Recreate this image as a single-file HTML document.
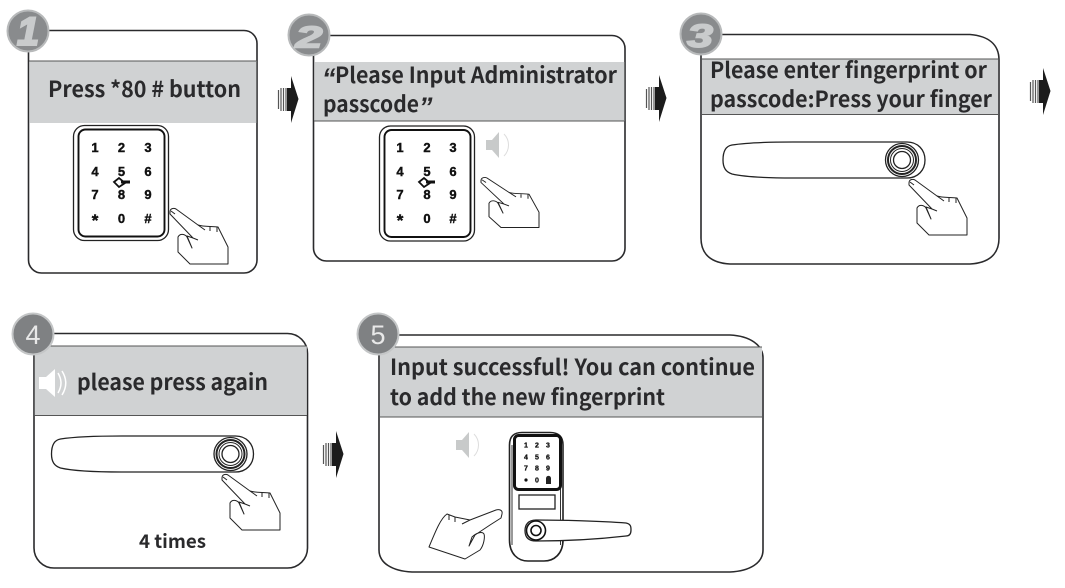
<!DOCTYPE html>
<html><head><meta charset="utf-8"><style>
html,body{margin:0;padding:0;background:#fff}
svg{display:block}
.t{font-family:"Noto Sans CJK SC","Liberation Sans",sans-serif;font-weight:700;fill:#2a2a2c;font-size:22px}
.q{font-family:"Liberation Sans",sans-serif;font-weight:700;font-style:italic;fill:#2a2a2c;font-size:27px}
.k{font-family:"Liberation Sans",sans-serif;font-weight:700;fill:#111;stroke:#111;stroke-width:.4;font-size:13px;text-anchor:middle}
.s{font-family:"Liberation Sans",sans-serif;font-weight:700;fill:#111;stroke:#111;stroke-width:.3;font-size:7px;text-anchor:middle}
.b{font-family:"Liberation Sans",sans-serif;font-weight:700;font-style:italic;fill:#c9cbcc;stroke:#c9cbcc;text-anchor:middle}
.r{font-family:"Liberation Sans",sans-serif;fill:#e8e8e8;font-size:27px;text-anchor:middle}
.p{fill:#fff;stroke:#2a2a2c;stroke-width:1.6}
.g{fill:#d0d2d3}
.l{stroke:#555;stroke-width:1;fill:none}
</style></head><body>
<svg width="1065" height="588" viewBox="0 0 1065 588" xmlns="http://www.w3.org/2000/svg">
<defs>
<g id="hand" fill="#fff" stroke="#222" stroke-width="1" stroke-linejoin="round">
<path d="M0 3C0 -1 4 -1 6 0L28 16C34 18 42 17 48 18L58 38V55H20L8 43V28C10 24 15 25 17 28L22 39L17 27L23 29L0 5Z"/>
<path d="M23 29L28 31M35 21L28 16M40 18V22M47 18V23" fill="none"/>
<path d="M1 2L5 5" fill="none"/>
</g>
<g id="arrow">
<path d="M13 0L20.500 23L13 47V35H9V12H13Z" fill="#1c1c1c"/>
<path d="M0.500 14V33M3 12V35M5.500 12V35M8 12V35" stroke="#555" stroke-width="1.200" fill="none"/>
</g>
<g id="handle" fill="none" stroke="#222">
<path d="M184 0H70C45 0 22 1 9 3C3 4 0 9 0 18C0 26 3 30 9 32C22 35 45 36 70 36H184C195 36 202 28 202 18C202 8 195 0 184 0Z" fill="#fff" stroke-width="1.300"/>
<circle cx="179" cy="18" r="16.500" stroke-width="1.300"/>
<circle cx="179" cy="18" r="14" stroke-width="2"/>
<circle cx="179" cy="18" r="8.500" stroke-width="1.300"/>
<circle cx="179" cy="18" r="11.500" stroke-width="1"/>
</g>
<g id="pad"><rect x="0" y="0" width="95" height="115" rx="11" fill="#fff" stroke="#222" stroke-width="1.300"/><rect x="5" y="4" width="86" height="107" rx="7" fill="#fff" stroke="#111" stroke-width="1.900"/></g>
<g id="spk"><path d="M0 8H6L13 0V26L6 18H0Z" fill="#c8caca"/><path d="M18 2C24 8 24 18 18 24" fill="none" stroke="#ddd" stroke-width="1"/></g>
<g id="key"><path d="M-7 0L-2 -4L4 1L-2 5Z" fill="#fff" stroke="#111" stroke-width="1.800"/><path d="M0 0H9" stroke="#111" stroke-width="3"/></g>
</defs>

<!-- Panel 1 -->
<rect class="p" x="28.500" y="30.500" width="228.500" height="242.500" rx="13"/>
<rect class="g" x="29.300" y="61" width="227" height="62"/>
<path class="l" d="M29 61H256"/>
<text class="t" x="48" y="97" textLength="193" lengthAdjust="spacingAndGlyphs">Press *80 # button</text>
<circle cx="28" cy="31" r="20.500" fill="#898b8d" stroke="#b8babb" stroke-width="2"/>
<text class="b" x="28" y="45" font-size="40" stroke-width="2">1</text>
<use href="#pad" x="73.500" y="125.500"/>
<text class="k" x="95" y="152">1</text><text class="k" x="121.500" y="152">2</text><text class="k" x="148" y="152">3</text>
<text class="k" x="95" y="176">4</text><text class="k" x="121.500" y="176">5</text><text class="k" x="148" y="176">6</text>
<text class="k" x="95" y="199">7</text><text class="k" x="121.500" y="199">8</text><text class="k" x="148" y="199">9</text>
<text class="k" x="95" y="226" style="font-size:17px">*</text><text class="k" x="121.500" y="223">0</text><text class="k" x="148" y="223">#</text>
<use href="#key" x="121" y="182"/>
<use href="#hand" x="170" y="209"/>
<use href="#arrow" x="278" y="76"/>

<!-- Panel 2 -->
<rect class="p" x="313.500" y="35.500" width="311.500" height="225.500" rx="13"/>
<rect class="g" x="314.300" y="62" width="310" height="59"/>
<path class="l" d="M314 121H624"/>
<text class="q" x="322" y="87">“</text>
<text class="t" x="335" y="83" textLength="282" lengthAdjust="spacingAndGlyphs">Please Input Administrator</text>
<text class="t" x="323" y="112" textLength="96" lengthAdjust="spacingAndGlyphs">passcode</text>
<text class="q" x="419" y="116">”</text>
<circle cx="309" cy="35" r="20.500" fill="#898b8d" stroke="#b8babb" stroke-width="2"/>
<text class="b" x="309" y="47.500" font-size="31" stroke-width="1.500" textLength="27" lengthAdjust="spacingAndGlyphs">2</text>
<use href="#pad" x="379.500" y="126"/>
<text class="k" x="400" y="152">1</text><text class="k" x="427" y="152">2</text><text class="k" x="453" y="152">3</text>
<text class="k" x="400" y="176">4</text><text class="k" x="427" y="176">5</text><text class="k" x="453" y="176">6</text>
<text class="k" x="400" y="199">7</text><text class="k" x="427" y="199">8</text><text class="k" x="453" y="199">9</text>
<text class="k" x="400" y="226" style="font-size:17px">*</text><text class="k" x="427" y="223">0</text><text class="k" x="453" y="223">#</text>
<use href="#key" x="426" y="182"/>
<use href="#spk" x="486" y="132"/>
<use href="#hand" transform="translate(481 178) scale(1 .9)"/>
<use href="#arrow" x="646" y="75"/>

<!-- Panel 3 -->
<path class="p" d="M701 34.500H970C988 36 999 44 999 60V238C999 255 988 263 970 264H730C712 263 701 255 701 238Z"/>
<rect class="g" x="702" y="59" width="296" height="55"/>
<path class="l" d="M702 59H998M702 114.500H998"/>
<text class="t" x="710" y="78" textLength="277" lengthAdjust="spacingAndGlyphs">Please enter fingerprint or</text>
<text class="t" x="710" y="107" textLength="282" lengthAdjust="spacingAndGlyphs">passcode:Press your finger</text>
<circle cx="701" cy="34" r="20.500" fill="#898b8d" stroke="#b8babb" stroke-width="2"/>
<text class="b" x="700" y="47" font-size="32" stroke-width="1.500" textLength="26" lengthAdjust="spacingAndGlyphs">3</text>
<use href="#handle" x="723" y="142"/>
<use href="#hand" x="909" y="180"/>
<use href="#arrow" x="1030" y="68"/>

<!-- Panel 4 -->
<rect class="p" x="34" y="333.500" width="273.500" height="234.500" rx="20"/>
<rect class="g" x="34.800" y="346" width="272" height="69"/>
<path class="l" d="M35 346H307M35 415.500H307" stroke="#444"/>
<path d="M39 377H46L55 369V397L46 389H39Z" fill="#fff"/><path d="M58 373C62 380 62 386 58 393M62 371C67 379 67 387 62 395" fill="none" stroke="#fff" stroke-width="1.500"/>
<text class="t" x="77" y="390" textLength="191" lengthAdjust="spacingAndGlyphs">please press again</text>
<text class="t" x="139" y="548" textLength="67" lengthAdjust="spacingAndGlyphs" style="font-size:19px">4 times</text>
<circle cx="33" cy="334" r="20.500" fill="#7f8183" stroke="#c4c6c7" stroke-width="2"/>
<text class="r" x="33" y="344">4</text>
<use href="#handle" x="51.500" y="436"/>
<use href="#hand" x="222" y="475"/>
<use href="#arrow" x="323" y="431"/>

<!-- Panel 5 -->
<path class="p" d="M379 335H730C750 336 763 345 763 358V550C763 563 750 571 730 572H412C392 571 379 563 379 550Z"/>
<rect class="g" x="380" y="347" width="382" height="70"/>
<path class="l" d="M380 347H762M380 417H762"/>
<text class="t" x="390" y="375" textLength="365" lengthAdjust="spacingAndGlyphs">Input successful! You can continue</text>
<text class="t" x="390" y="405" textLength="275" lengthAdjust="spacingAndGlyphs">to add the new fingerprint</text>
<circle cx="378" cy="334" r="20.500" fill="#7f8183" stroke="#c4c6c7" stroke-width="2"/>
<text class="r" x="378" y="344">5</text>
<use href="#spk" x="456" y="432"/>
<!-- lock -->
<path d="M509.500 445C509.500 436 514 432.500 522 432.500H550C558 432.500 563 436 563 445V540C563 554 554 561 544 561H528C518 561 509.500 554 509.500 540Z" fill="#fff" stroke="#222" stroke-width="1.600"/>
<path d="M512 445V545M560.500 445V545" stroke="#333" stroke-width="1" fill="none"/>
<rect x="514.500" y="435.500" width="46" height="54" rx="4" fill="#fff" stroke="#111" stroke-width="3"/>
<rect x="519" y="495" width="36" height="14" fill="#fff" stroke="#222" stroke-width="1.300"/>
<text class="s" x="526" y="447.500">1</text><text class="s" x="537" y="447.500">2</text><text class="s" x="548" y="447.500">3</text>
<text class="s" x="526" y="459.500">4</text><text class="s" x="537" y="459.500">5</text><text class="s" x="548" y="459.500">6</text>
<text class="s" x="526" y="470.500">7</text><text class="s" x="537" y="470.500">8</text><text class="s" x="548" y="470.500">9</text>
<circle cx="526" cy="480" r="1.600" fill="#111"/><text class="s" x="537" y="482.500">0</text>
<path d="M546 484V478.500C546 475 551 475 551 478.500V484Z" fill="#222"/>
<path d="M536 520C560 520 600 521 626 523C631 524 631 527 631 530C631 533 630 536 626 536C600 539 570 541 536 541C527 541 525 536 525 530.500C525 525 528 520 536 520Z" fill="#fff" stroke="#222" stroke-width="1.300"/>
<circle cx="536" cy="530.500" r="9.500" fill="#fff" stroke="#111" stroke-width="1.600"/>
<circle cx="536" cy="530.500" r="5" fill="#fff" stroke="#111" stroke-width="1.600"/>
<path d="M502 514C503 510 499 509 496 510L470 520L455 517L447 514C441 518 436 530 429 547L465 559L480 550C484 545 485 537 484 534C482 531 476 533 472 537L469 546L475 535L490 525L501 518Z" fill="#fff" stroke="#222" stroke-width="1" stroke-linejoin="round"/>
<path d="M470 520L462 524M455 517V522M449 515V520" fill="none" stroke="#222" stroke-width="1"/>
</svg>
</body></html>
